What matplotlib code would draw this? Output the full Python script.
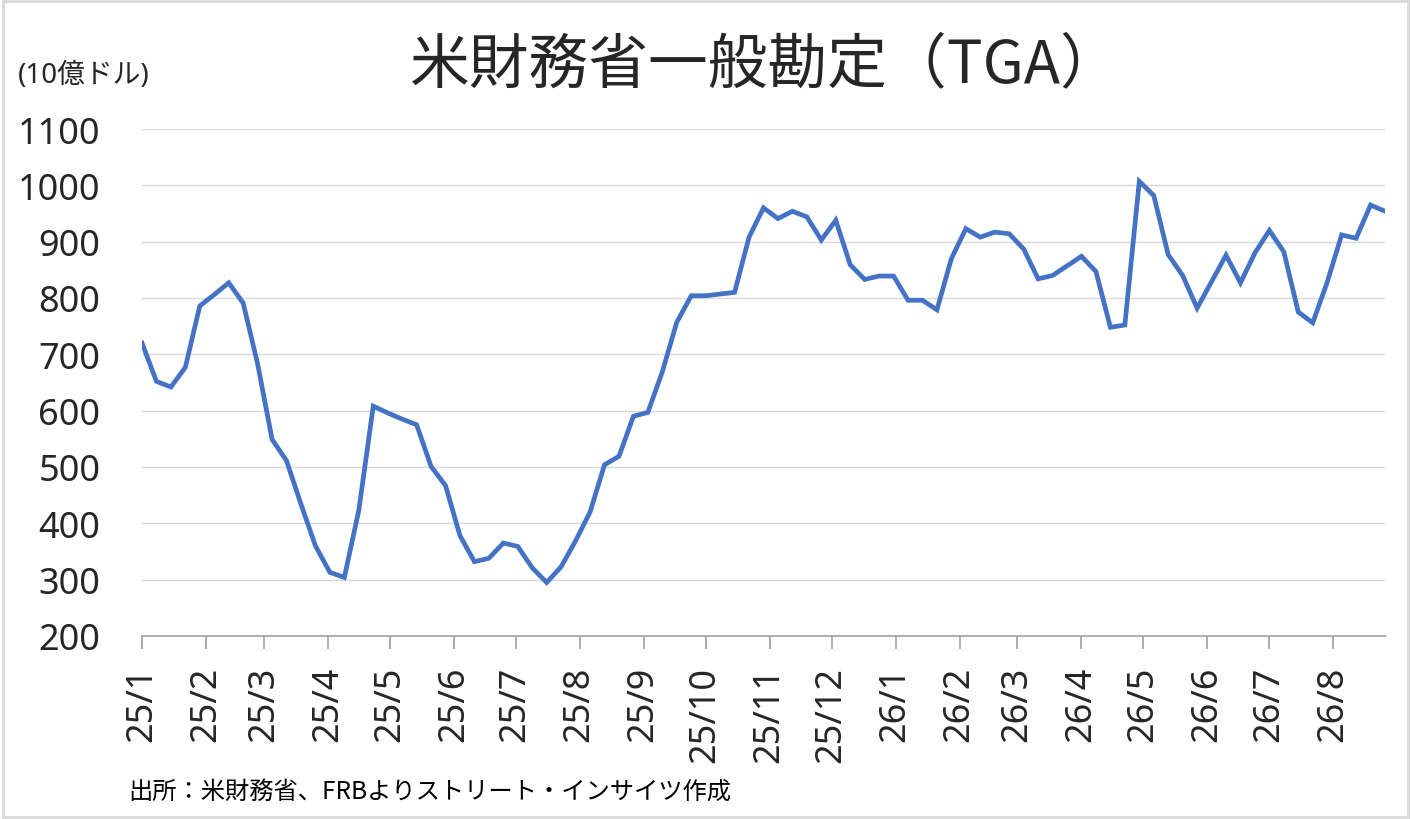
import pandas as pd, numpy as np
import matplotlib
matplotlib.use("Agg")
import matplotlib.pyplot as plt
import matplotlib.dates as mdates
import matplotlib.patches as mpatches

plt.rcParams['font.family'] = ['Noto Sans', 'Noto Sans CJK JP', 'DejaVu Sans']

# weekly TGA balance, 10億ドル
start_date = '2025-01-01'
tga = [720, 652, 642, 677, 786, 806, 827, 791, 683, 549,
       511, 434, 360, 313, 304, 423, 608, 596, 585, 575,
       501, 467, 378, 332, 338, 365, 359, 321, 295, 323,
       369, 420, 504, 519, 590, 597, 669, 757, 804, 804,
       807, 810, 908, 960, 941, 954, 944, 903, 938, 859,
       833, 839, 839, 796, 796, 779, 870, 923, 908, 917,
       914, 887, 834, 840, 857, 874, 847, 748, 752, 1007,
       982, 877, 840, 782, 829, 876, 827, 880, 920, 882,
       775, 756, 828, 912, 906, 965, 954]
dates = pd.date_range(start_date, periods=len(tga), freq='7D')

y_ticks = [200, 300, 400, 500, 600, 700, 800, 900, 1000, 1100]

title = '米財務省一般勘定（TGA）'
unit_label = '(10億ドル)'
source = '出所：米財務省、FRBよりストリート・インサイツ作成'

txt_col = '#262626'
grid_col = '#d9d9d9'
axis_col = '#a6a6a6'
line_col = '#4472C4'

fig = plt.figure(figsize=(14.11, 8.20), dpi=100)
ax = fig.add_axes([142/1411, 1-637/820, (1385-142)/1411, (637-130)/820])

ax.plot(dates, tga, color=line_col, lw=3.4, solid_joinstyle='miter', zorder=3)

ax.set_ylim(200, 1100)
ax.set_yticks(y_ticks)
ax.set_xlim(dates[0], dates[-1])
ax.grid(axis='y', color=grid_col, lw=1.0)
ax.set_axisbelow(True)

ax.xaxis.set_major_locator(mdates.MonthLocator())
ax.xaxis.set_major_formatter(plt.FuncFormatter(
    lambda v, p: '%d/%d' % (mdates.num2date(v).year % 100, mdates.num2date(v).month)))

for s in ['left', 'right', 'top']:
    ax.spines[s].set_visible(False)
ax.spines['bottom'].set_color(axis_col)
ax.spines['bottom'].set_linewidth(1.3)

ax.tick_params(axis='x', length=9.5, width=1.3, color=axis_col, pad=12,
               labelsize=26, labelcolor=txt_col, labelrotation=90)
ax.tick_params(axis='y', length=0, pad=30, labelsize=26, labelcolor=txt_col)

fig.text(0.542, 1-66/820, title, ha='center', va='center', fontsize=43, color=txt_col,
         family=['Noto Sans CJK JP', 'DejaVu Sans'])
fig.text(18/1411, 1-76/820, unit_label, ha='left', va='center', fontsize=20, color=txt_col)
fig.text(128/1411, 1-792/820, source, ha='left', va='center', fontsize=17.5, color='black',
         family=['Noto Sans CJK JP', 'DejaVu Sans'])

# outer chart border
fig.patches.append(mpatches.Rectangle((0.002, 0.003), 0.996, 0.994, transform=fig.transFigure,
                                      fill=False, edgecolor=grid_col, lw=2))

fig.savefig('out.png', dpi=100)
